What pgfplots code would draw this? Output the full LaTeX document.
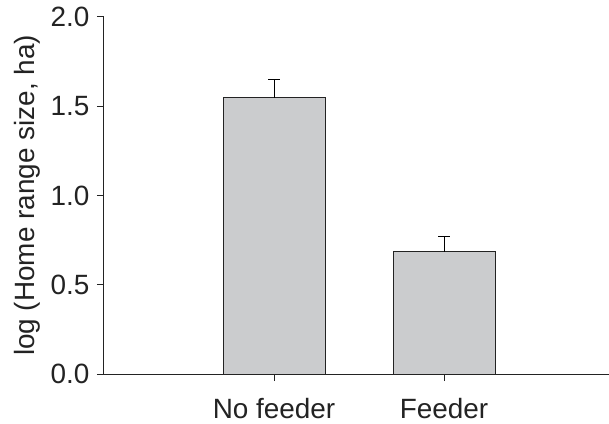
\documentclass[border=0pt]{standalone}
\usepackage{pgfplots}
\pgfplotsset{compat=1.18}
\usepackage{fontspec}
\setmainfont{Liberation Sans}
\definecolor{barfill}{RGB}{203,204,206}
\definecolor{axcol}{RGB}{35,35,35}
\begin{document}
\begin{tikzpicture}
\path[use as bounding box] (-104bp,-50bp) rectangle (505bp,374bp);
\begin{axis}[
  scale only axis,
  width=505bp, height=357bp,
  xmin=-1, xmax=1.97,
  ymin=0, ymax=2,
  axis lines*=left,
  axis line style={axcol, line width=1bp, -},
  xtick={0,1}, xticklabels={No feeder, Feeder},
  ytick={0,0.5,1.0,1.5,2.0},
  yticklabel style={xshift=-4bp, /pgf/number format/.cd, fixed, fixed zerofill, precision=1},
  /pgf/number format/assume math mode=true,
  tick align=outside,
  major tick length=7bp,
  every tick/.style={draw=axcol, line width=1bp},
  ticklabel style={font=\fontsize{28}{32}\selectfont, text=axcol},
  xticklabel style={yshift=-14bp},
  ylabel={log (Home range size, ha)},
  ylabel style={font=\fontsize{28}{32}\selectfont, text=axcol, yshift=4bp},
  clip=false,
]
\addplot[ybar, bar width=102bp, fill=barfill, draw=axcol, line width=1bp,
  error bars/.cd, y dir=plus, y explicit,
  error bar style={black, line width=1bp},
  error mark options={rotate=90, mark size=6bp, line width=1bp, black}]
  coordinates {(0,1.548) +- (0,0.101) (1,0.685) +- (0,0.084)};
\end{axis}
\end{tikzpicture}
\end{document}
